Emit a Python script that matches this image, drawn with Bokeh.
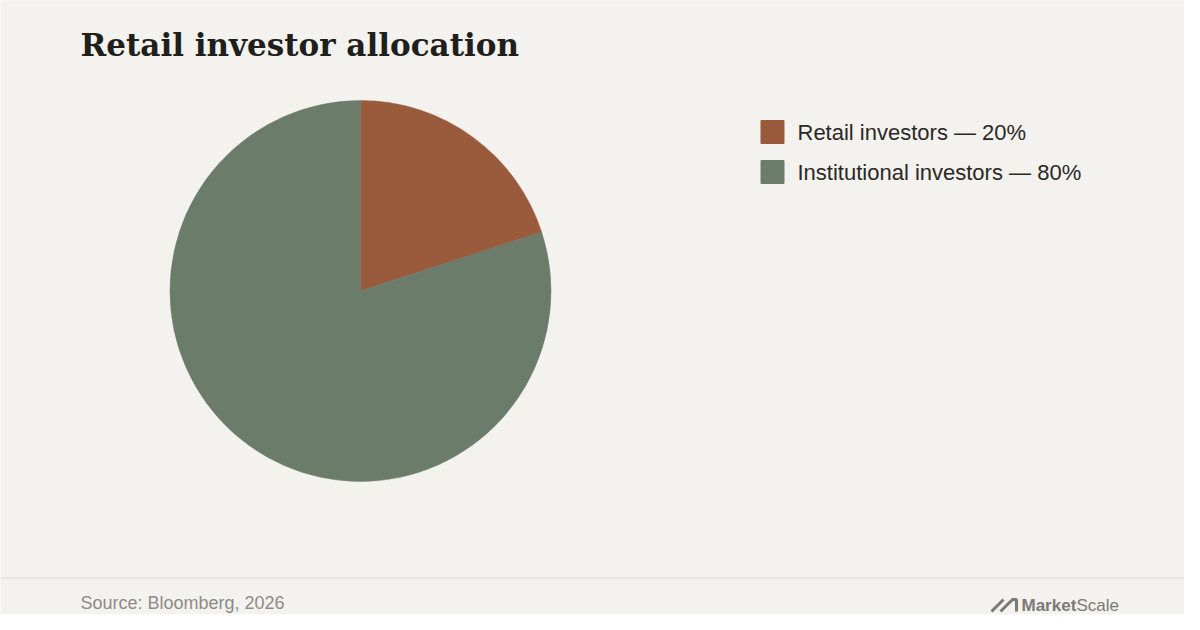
import math
from bokeh.plotting import figure
from bokeh.models import ColumnDataSource, Range1d, Span
from bokeh.core.properties import value
from bokeh.embed import file_html
from bokeh.resources import INLINE

# ---- data ----
categories = ["Retail investors", "Institutional investors"]
shares = [20, 80]
colors = ["#9a5a3c", "#6b7d6a"]
title_text = "Retail investor allocation"
source_text = "Source: Bloomberg, 2026"

BG = "#f3f2ee"
W, H = 1184, 614


def Y(ref_y):
    # data coordinates follow reference pixel coordinates (y flipped)
    return 630 - ref_y


p = figure(width=W, height=H, output_backend="svg", toolbar_location=None,
           x_range=Range1d(0, W), y_range=Range1d(630 - H, 630),
           min_border=0, outline_line_color=None,
           background_fill_color=BG, border_fill_color=BG)
p.axis.visible = False
p.grid.visible = False

# ---- pie ----
total = float(sum(shares))
starts, ends = [], []
cum = 0.0
for v in shares:
    starts.append(math.pi / 2 - 2 * math.pi * cum / total)
    cum += v
    ends.append(math.pi / 2 - 2 * math.pi * cum / total)

pie_src = ColumnDataSource(dict(cat=categories, val=shares, start=starts, end=ends, color=colors))
p.wedge(x=360, y=Y(290.5), radius=190.5, start_angle="start", end_angle="end",
        direction="clock", fill_color="color", line_color="color", line_width=0.5,
        source=pie_src)

# ---- legend ----
labels = [f"{c} \u2014 {v}%" for c, v in zip(categories, shares)]
leg_y = [Y(131.5 + 40 * i) for i in range(len(categories))]
leg_src = ColumnDataSource(dict(label=labels, y=leg_y, color=colors))
p.rect(x=772, y="y", width=23, height=23, fill_color="color", line_color="color",
       source=leg_src)
p.text(x=797, y="y", text="label", text_font=value("Liberation Sans"),
       text_font_size="22px", text_color="#2a2825", text_baseline="middle",
       source=leg_src)

# ---- title ----
p.text(x=[80], y=[Y(44)], text=[title_text], text_font=value("DejaVu Serif"),
       text_font_style="bold", text_font_size="31px", text_color="#201f1c",
       text_baseline="middle")

# ---- footer ----
p.add_layout(Span(location=Y(577.5), dimension="width", line_color="#e2e0db", line_width=1.5))
p.text(x=[80], y=[Y(602)], text=[source_text], text_font=value("Liberation Sans"),
       text_font_size="18px", text_color="#8d8b86", text_baseline="middle")

# logo
logo_gray = "#7b7976"
p.multi_line(xs=[[991, 1003], [1000, 1012, 1016, 1016]],
             ys=[[Y(611), Y(599)], [Y(611), Y(599), Y(599), Y(611)]],
             line_color=logo_gray, line_width=3)
p.text(x=[1021], y=[Y(604.5)], text=["Market"], text_font=value("Liberation Sans"),
       text_font_style="bold", text_font_size="17px", text_color=logo_gray,
       text_baseline="middle")
p.text(x=[1076], y=[Y(604.5)], text=["Scale"], text_font=value("Liberation Sans"),
       text_font_size="17px", text_color=logo_gray, text_baseline="middle")

open("out.html", "w").write(file_html(p, INLINE))
